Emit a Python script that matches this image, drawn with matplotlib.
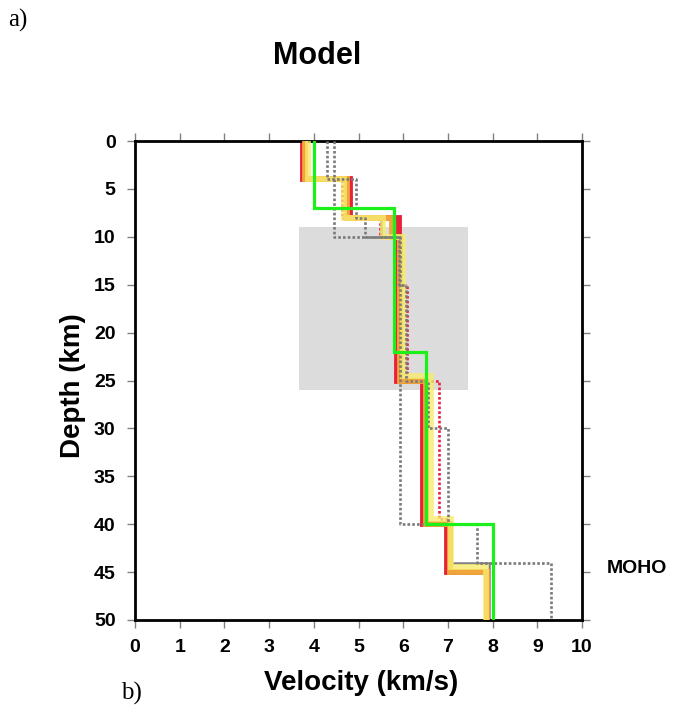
import numpy as np
import matplotlib
matplotlib.use("Agg")
import matplotlib.pyplot as plt
from matplotlib.patches import Rectangle

plt.rcParams['font.family'] = ['Liberation Sans', 'DejaVu Sans']

# layer tops (km) and velocities (km/s) for each model
red_z = [0, 4, 8, 10, 25, 40, 45, 50]
red_v = [3.75, 4.82, 5.9, 5.87, 6.45, 6.97, 7.87]

orange_z = [0, 4, 8, 10, 25, 40, 45, 50]
orange_v = [3.8, 4.74, 5.75, 5.93, 6.5, 7.05, 7.87]

yellow_z = [0, 4, 8, 10, 24.5, 39.5, 44.5, 50]
yellow_v = [3.87, 4.68, 5.55, 6.0, 6.62, 7.08, 7.85]

green_z = [0, 7, 22, 40, 50]
green_v = [4.0, 5.8, 6.5, 8.0]

gray_z = [0, 4, 8, 10, 25, 40, 44, 50]
gray_v = [3.8, 4.78, 5.5, 5.95, 6.5, 7.04, 7.92]

dotA_z = [0, 4, 8, 10, 15, 25, 30, 40, 44, 50]
dotA_v = [4.3, 4.95, 5.15, 5.9, 6.06, 6.56, 7.0, 7.66, 9.3]

dotB_z = [0, 10, 40, 40]
dotB_v = [4.45, 5.93, 6.45]

reddot_z = [0, 4, 8, 10, 15, 25, 39.5, 45, 50]
reddot_v = [3.8, 4.62, 5.48, 5.8, 6.08, 6.8, 7.0, 7.85]

# shaded box: velocity range and depth range
box_v = (3.67, 7.45)
box_z = (9, 26)

xticks = np.arange(0, 11, 1)
yticks = np.arange(0, 55, 5)


def steps(z, v):
    y = np.repeat(z, 2)[1:-1]
    x = np.repeat(v, 2)
    return x, y


fig = plt.figure(figsize=(6.73, 7.08), dpi=100)
ax = fig.add_axes([135/673, 1-620/708, 447/673, 479/708])

ax.add_patch(Rectangle((box_v[0], box_z[0]), box_v[1]-box_v[0], box_z[1]-box_z[0],
                       facecolor='#dcdcdc', edgecolor='none', zorder=0))

dot = (0, (1, 0.8))
ax.plot(*steps(gray_z, gray_v), color='#808080', lw=1.8, zorder=1)
ax.plot(*steps(reddot_z, reddot_v), color='#e8203a', lw=1.9, ls=dot, zorder=1.5)
ax.plot(*steps(red_z, red_v), color='#e8203a', lw=4.2, zorder=2, solid_joinstyle='miter')
ax.plot(*steps(orange_z, orange_v), color='#f0a43c', lw=4.2, zorder=3, solid_joinstyle='miter')
ax.plot(*steps(yellow_z, yellow_v), color='#f7ec6e', lw=4.2, alpha=0.8, zorder=4, solid_joinstyle='miter')
ax.plot(*steps(dotA_z, dotA_v), color='#7a7a7a', lw=1.9, ls=dot, zorder=5)
ax.plot(*steps(dotB_z, dotB_v), color='#7a7a7a', lw=1.9, ls=dot, zorder=5)
ax.plot(*steps(green_z, green_v), color='#1bf01b', lw=2.3, zorder=7, solid_joinstyle='miter')

ax.set_xlim(0, 10)
ax.set_ylim(50, 0)
ax.set_xticks(xticks)
ax.set_yticks(yticks)
ax.tick_params(direction='out', length=6, width=1, color='#808080',
               top=True, right=True, labelsize=14, pad=8)
for lab in ax.get_xticklabels() + ax.get_yticklabels():
    lab.set_fontweight('bold')
for s in ax.spines.values():
    s.set_linewidth(2)
    s.set_color('black')

ax.set_xlabel('Velocity (km/s)', fontsize=20, fontweight='bold')
ax.set_ylabel('Depth (km)', fontsize=20, fontweight='bold')
ax.xaxis.set_label_coords(0.505, -0.105)
ax.yaxis.set_label_coords(-0.11, 0.49)

ax.text(10.55, 44.6, 'MOHO', fontsize=14, fontweight='bold', va='center', clip_on=False)

fig.text(317/673, 1-64/708, 'Model', fontsize=22, fontweight='bold', ha='center', va='baseline')
fig.text(8/673, 1-27/708, 'a)', fontsize=18, family=['Liberation Serif'], va='baseline')
fig.text(121/673, 1-700/708, 'b)', fontsize=18, family=['Liberation Serif'], va='baseline')

fig.savefig('out.png', dpi=100)
